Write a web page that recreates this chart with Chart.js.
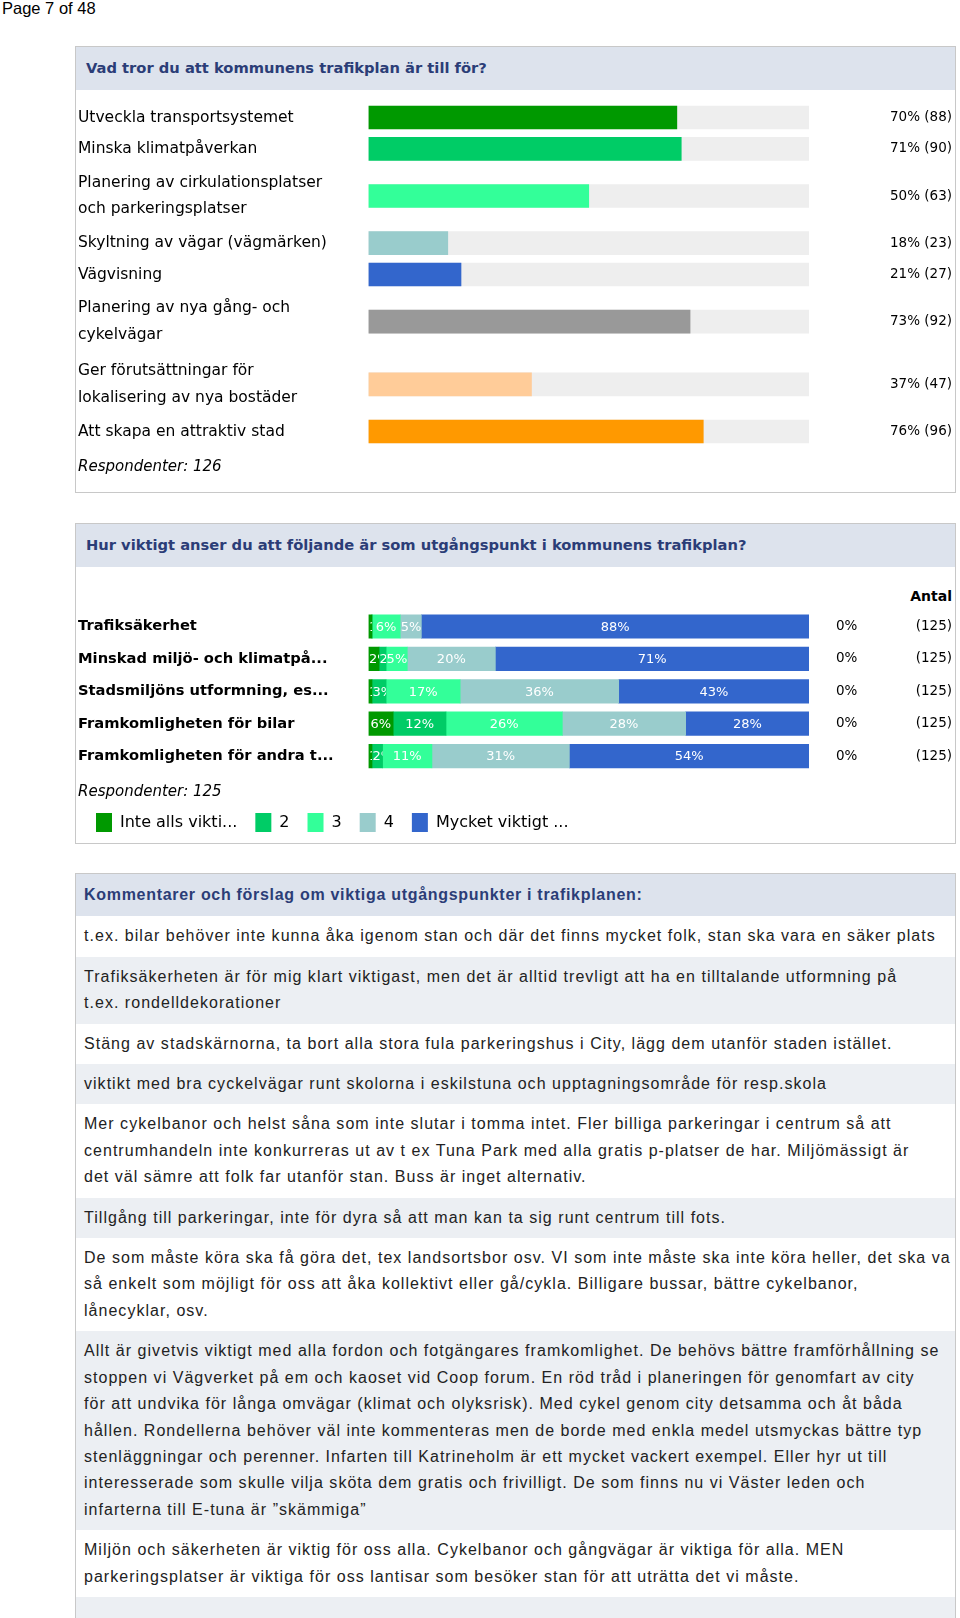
<!DOCTYPE html>
<html lang="sv">
<head>
<meta charset="utf-8">
<title>Trafikplan – enkät</title>
<script src="https://cdn.jsdelivr.net/npm/chart.js@4.4.1/dist/chart.umd.min.js"></script>
<style>
  html, body { margin: 0; padding: 0; background: #fff; }
  body { width: 960px; height: 1618px; position: relative; overflow: hidden; font-family: 'Liberation Sans', Arial, sans-serif; }
  .page-no { position: absolute; left: 2px; top: 0; font-size: 16.5px; line-height: 16px; color: #000; }
  .panel { position: absolute; left: 75px; width: 881px; box-sizing: border-box; border: 1px solid #c8c8c8; background: #fff; }
  .panel-head { height: 43px; background: #dde3ed; color: #2b3d77; font: bold 14.7px 'DejaVu Sans', sans-serif; line-height: 41px; padding-left: 10px; white-space: nowrap; }
  .chart-box { position: absolute; left: 70px; }
  .antal { position: absolute; right: 8px; top: 587px; font: bold 14px 'DejaVu Sans', sans-serif; line-height: 18px; color: #000; }
  .comments { position: absolute; left: 75px; top: 873px; width: 881px; box-sizing: border-box; border: 1px solid #c8c8c8; border-bottom: none; }
  .comments div { padding: 7px 8px; line-height: 26.4px; font-size: 16px; letter-spacing: 1.03px; color: #222; white-space: nowrap; }
  .comments .c-head { background: #dde3ed; color: #2b3d77; font-weight: bold; letter-spacing: 0.7px; padding-top: 8px; padding-bottom: 8px; }
  .comments .alt { background: #eceff3; }
</style>
</head>
<body>
<div class="page-no">Page 7 of 48</div>

<div class="panel" style="top:46px;height:447px;">
  <div class="panel-head">Vad tror du att kommunens trafikplan är till för?</div>
</div>
<div class="chart-box" style="top:86px;"><canvas id="chart1" width="886" height="402"></canvas></div>

<div class="panel" style="top:523px;height:321px;">
  <div class="panel-head">Hur viktigt anser du att följande är som utgångspunkt i kommunens trafikplan?</div>
</div>
<div class="antal">Antal</div>
<div class="chart-box" style="top:570px;"><canvas id="chart2" width="886" height="272"></canvas></div>

<div class="comments">
  <div class="c-head">Kommentarer och förslag om viktiga utgångspunkter i trafikplanen:</div>
  <div>t.ex. bilar behöver inte kunna åka igenom stan och där det finns mycket folk, stan ska vara en säker plats</div>
  <div class="alt">Trafiksäkerheten är för mig klart viktigast, men det är alltid trevligt att ha en tilltalande utformning på<br>t.ex. rondelldekorationer</div>
  <div>Stäng av stadskärnorna, ta bort alla stora fula parkeringshus i City, lägg dem utanför staden istället.</div>
  <div class="alt">viktikt med bra cyckelvägar runt skolorna i eskilstuna och upptagningsområde för resp.skola</div>
  <div>Mer cykelbanor och helst såna som inte slutar i tomma intet. Fler billiga parkeringar i centrum så att<br>centrumhandeln inte konkurreras ut av t ex Tuna Park med alla gratis p-platser de har. Miljömässigt är<br>det väl sämre att folk far utanför stan. Buss är inget alternativ.</div>
  <div class="alt">Tillgång till parkeringar, inte för dyra så att man kan ta sig runt centrum till fots.</div>
  <div>De som måste köra ska få göra det, tex landsortsbor osv. VI som inte måste ska inte köra heller, det ska va<br>så enkelt som möjligt för oss att åka kollektivt eller gå/cykla. Billigare bussar, bättre cykelbanor,<br>lånecyklar, osv.</div>
  <div class="alt">Allt är givetvis viktigt med alla fordon och fotgängares framkomlighet. De behövs bättre framförhållning se<br>stoppen vi Vägverket på em och kaoset vid Coop forum. En röd tråd i planeringen för genomfart av city<br>för att undvika för långa omvägar (klimat och olyksrisk). Med cykel genom city detsamma och åt båda<br>hållen. Rondellerna behöver väl inte kommenteras men de borde med enkla medel utsmyckas bättre typ<br>stenläggningar och perenner. Infarten till Katrineholm är ett mycket vackert exempel. Eller hyr ut till<br>interesserade som skulle vilja sköta dem gratis och frivilligt. De som finns nu vi Väster leden och<br>infarterna till E-tuna är ”skämmiga”</div>
  <div>Miljön och säkerheten är viktig för oss alla. Cykelbanor och gångvägar är viktiga för alla. MEN<br>parkeringsplatser är viktiga för oss lantisar som besöker stan för att uträtta det vi måste.</div>
  <div class="alt" style="height:40px;"></div>
</div>

<script>
// --- question 1: what is the traffic plan for (multiple choice, 126 respondents)
const questionLabels = [
  ['Utveckla transportsystemet'],
  ['Minska klimatpåverkan'],
  ['Planering av cirkulationsplatser', 'och parkeringsplatser'],
  ['Skyltning av vägar (vägmärken)'],
  ['Vägvisning'],
  ['Planering av nya gång- och', 'cykelvägar'],
  ['Ger förutsättningar för', 'lokalisering av nya bostäder'],
  ['Att skapa en attraktiv stad']
];
const questionPercent = [70, 71, 50, 18, 21, 73, 37, 76];
const questionCount = [88, 90, 63, 23, 27, 92, 47, 96];
const questionColors = ['#009900', '#00cc66', '#33ff99', '#99cccc', '#3366cc', '#999999', '#ffcc99', '#ff9900'];
const questionRespondents = 126;

// --- question 2: importance, answer counts per level (125 respondents)
const importanceLabels = [
  'Trafiksäkerhet',
  'Minskad miljö- och klimatpå...',
  'Stadsmiljöns utformning, es...',
  'Framkomligheten för bilar',
  'Framkomligheten för andra t...'
];
const levelNames = ['Inte alls vikti...', '2', '3', '4', 'Mycket viktigt ...'];
const levelColors = ['#009900', '#00cc66', '#33ff99', '#99cccc', '#3366cc'];
const levelInteAlls = [1, 3, 1, 7, 1];
const level2 = [0, 2, 4, 15, 3];
const level3 = [8, 6, 21, 33, 14];
const level4 = [6, 25, 45, 35, 39];
const levelMycket = [110, 89, 54, 35, 68];
const noAnswerPercent = [0, 0, 0, 0, 0];
const answeredCount = [125, 125, 125, 125, 125];
const importanceRespondents = 125;

const labelFont = 'DejaVu Sans';
const trackMax = 100;

// rows with two label lines take two units of height
let unitPos = 0;
const rowCenters = questionLabels.map(l => {
  const c = unitPos + l.length / 2;
  unitPos += l.length;
  return c;
});
const rowUnits = unitPos;

function rowTicks(scale) {
  scale.ticks = rowCenters.map(v => ({ value: v }));
}

new Chart(document.getElementById('chart1'), {
  type: 'bar',
  data: {
    datasets: [
      {
        data: questionPercent.map((v, i) => ({ x: v, y: rowCenters[i] })),
        backgroundColor: questionColors,
        barThickness: 23,
        maxBarThickness: 23,
        grouped: false
      },
      {
        data: questionPercent.map((v, i) => ({ x: trackMax, y: rowCenters[i] })),
        backgroundColor: '#eeeeee',
        barThickness: 23,
        maxBarThickness: 23,
        grouped: false
      }
    ]
  },
  options: {
    indexAxis: 'y',
    responsive: false,
    animation: false,
    layout: { padding: { left: 8, right: 4, top: 15.8, bottom: 0 } },
    scales: {
      x: { display: false, min: 0, max: trackMax },
      y: {
        type: 'linear', reverse: true, offset: false, min: 0, max: rowUnits,
        afterBuildTicks: rowTicks,
        afterFit: s => { s.width = 290.5; },
        grid: { display: false, drawTicks: false, offset: false },
        border: { display: false },
        ticks: {
          autoSkip: false, crossAlign: 'far', padding: 0, color: '#000',
          font: { family: labelFont, size: 15.5, lineHeight: 1.72 },
          callback: v => questionLabels[rowCenters.indexOf(v)]
        }
      },
      y2: {
        type: 'linear', position: 'right', reverse: true, offset: false, min: 0, max: rowUnits,
        afterBuildTicks: rowTicks,
        afterFit: s => { s.width = 143; },
        grid: { display: false, drawTicks: false },
        border: { display: false },
        ticks: {
          autoSkip: false, crossAlign: 'far', padding: 0, color: '#000',
          font: { family: labelFont, size: 13.5 },
          callback: v => {
            const i = rowCenters.indexOf(v);
            return questionPercent[i] + '% (' + questionCount[i] + ')';
          }
        }
      }
    },
    plugins: {
      tooltip: { enabled: false },
      legend: {
        position: 'bottom',
        align: 'start',
        labels: { filter: () => false },
        title: {
          display: true,
          text: 'Respondenter: ' + questionRespondents,
          position: 'start',
          color: '#000',
          font: { family: labelFont, size: 15, style: 'italic', lineHeight: 1.2 },
          padding: { top: 12.8, bottom: 0 }
        }
      }
    }
  }
});

// white percentage text inside each stacked segment, clipped to the segment
const segmentLabels = {
  id: 'segmentLabels',
  afterDatasetsDraw(chart) {
    const ctx = chart.ctx;
    ctx.save();
    ctx.font = '13px "DejaVu Sans"';
    ctx.fillStyle = '#fff';
    ctx.textBaseline = 'middle';
    chart.data.datasets.forEach((ds, i) => {
      chart.getDatasetMeta(i).data.forEach((bar, j) => {
        const { x, y, base, height } = bar.getProps(['x', 'y', 'base', 'height'], true);
        const w = x - base;
        if (w <= 0) return;
        const text = Math.round(ds.data[j]) + '%';
        const tw = ctx.measureText(text).width;
        ctx.save();
        ctx.beginPath();
        ctx.rect(base, y - height / 2, w, height);
        ctx.clip();
        if (tw + 2 <= w) {
          ctx.textAlign = 'center';
          ctx.fillText(text, (base + x) / 2, y + 1);
        } else {
          ctx.textAlign = 'left';
          ctx.fillText(text, base + 0.5, y + 1);
        }
        ctx.restore();
      });
    });
    ctx.restore();
  }
};

const levelCounts = [levelInteAlls, level2, level3, level4, levelMycket];

new Chart(document.getElementById('chart2'), {
  type: 'bar',
  data: {
    labels: importanceLabels,
    datasets: levelCounts.map((counts, k) => ({
      label: levelNames[k],
      data: counts.map(c => c / importanceRespondents * 100),
      backgroundColor: levelColors[k],
      borderWidth: 0,
      barThickness: 23.5
    }))
  },
  options: {
    indexAxis: 'y',
    responsive: false,
    animation: false,
    layout: { padding: { left: 8, right: 4, top: 40.3, bottom: 0 } },
    scales: {
      x: { display: false, stacked: true, min: 0, max: 100 },
      y: {
        type: 'category', stacked: true, offset: true,
        afterFit: s => { s.width = 290.5; },
        grid: { display: false, drawTicks: false },
        border: { display: false },
        ticks: {
          crossAlign: 'far', padding: 0, color: '#000',
          font: { family: labelFont, size: 14.7, weight: 'bold' }
        }
      },
      y2: {
        type: 'category', position: 'right', offset: true, weight: 1,
        afterFit: s => { s.width = 60; },
        grid: { display: false, drawTicks: false },
        border: { display: false },
        ticks: {
          crossAlign: 'near', padding: 27, color: '#000',
          font: { family: labelFont, size: 13.5 },
          callback: (v, i) => noAnswerPercent[i] + '%'
        }
      },
      y3: {
        type: 'category', position: 'right', offset: true, weight: 2,
        afterFit: s => { s.width = 83; },
        grid: { display: false, drawTicks: false },
        border: { display: false },
        ticks: {
          crossAlign: 'far', padding: 0, color: '#000',
          font: { family: labelFont, size: 13.5 },
          callback: (v, i) => '(' + answeredCount[i] + ')'
        }
      }
    },
    plugins: {
      tooltip: { enabled: false },
      legend: {
        position: 'bottom',
        align: 'start',
        labels: {
          boxWidth: 16,
          boxHeight: 19,
          padding: 18,
          color: '#000',
          font: { family: labelFont, size: 16 }
        },
        title: {
          display: true,
          text: 'Respondenter: ' + importanceRespondents,
          position: 'start',
          color: '#000',
          font: { family: labelFont, size: 15, style: 'italic', lineHeight: 0.667 },
          padding: { top: 12.7, bottom: 0 }
        }
      }
    }
  },
  plugins: [segmentLabels]
});
</script>
</body>
</html>
